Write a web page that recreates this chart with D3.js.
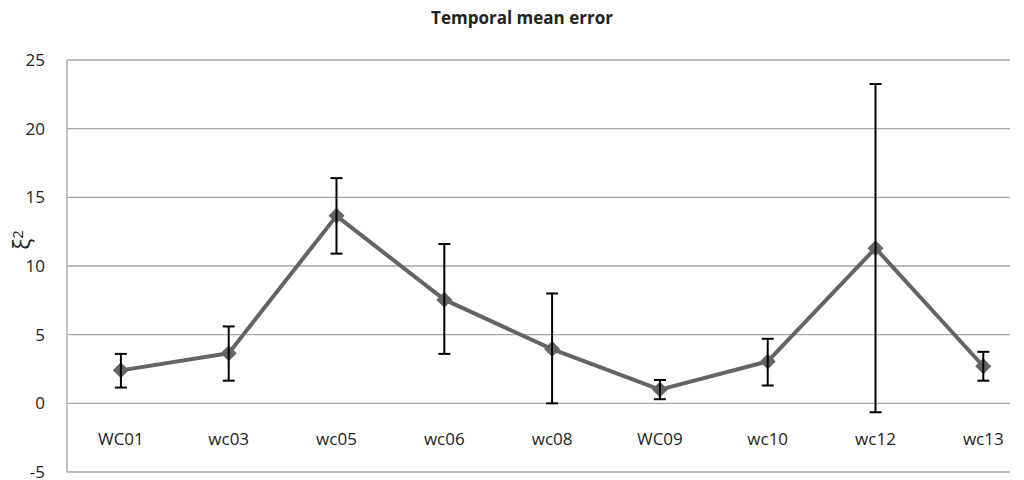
<!DOCTYPE html>
<html>
<head>
<meta charset="utf-8">
<script src="https://cdnjs.cloudflare.com/ajax/libs/d3/7.8.5/d3.min.js"></script>
<style>
  body { margin: 0; background: #fff; }
  text { font-family: "Open Sans", "Liberation Sans", sans-serif; fill: #222; }
</style>
</head>
<body>
<svg id="chart" width="1024" height="480"></svg>
<script>
// station names along the x axis
var stations = ["WC01", "wc03", "wc05", "wc06", "wc08", "WC09", "wc10", "wc12", "wc13"];
// mean error per station
var meanErr = [2.4, 3.65, 13.65, 7.55, 3.95, 1.0, 3.05, 11.3, 2.7];
// error bar ends
var errLow  = [1.15, 1.65, 10.9, 3.6, 0.0, 0.3, 1.3, -0.65, 1.65];
var errHigh = [3.6, 5.6, 16.4, 11.6, 8.0, 1.7, 4.7, 23.25, 3.75];
var yTicks = [-5, 0, 5, 10, 15, 20, 25];

var svg = d3.select("#chart");
// note: "top" is taken by window.top, so use plot* names
var plotLeft = 67, plotRight = 1010, plotTop = 60, plotBottom = 472;

var x = d3.scaleBand().domain(stations).range([plotLeft, plotLeft + 9 * 107.8]);
var y = d3.scaleLinear().domain([-5, 25]).range([plotBottom, plotTop]);
var cx = function(i){ return x(stations[i]) + x.bandwidth() / 2; };

// gridlines
svg.append("g").selectAll("line").data(yTicks).enter().append("line")
  .attr("x1", plotLeft).attr("x2", plotRight)
  .attr("y1", function(d){ return y(d); }).attr("y2", function(d){ return y(d); })
  .attr("stroke", "#a6a6a6").attr("stroke-width", 1.3);

// left axis line
svg.append("line").attr("x1", plotLeft).attr("x2", plotLeft)
  .attr("y1", plotTop).attr("y2", plotBottom)
  .attr("stroke", "#a6a6a6").attr("stroke-width", 1.3);

// y tick labels
svg.append("g").selectAll("text").data(yTicks).enter().append("text")
  .attr("x", 45).attr("y", function(d){ return y(d); })
  .attr("dy", "0.35em").attr("text-anchor", "end")
  .style("font-size", "17px")
  .text(function(d){ return d; });

// x labels (sit in the band between 0 and -5)
svg.append("g").selectAll("text").data(stations).enter().append("text")
  .attr("x", function(d, i){ return cx(i); }).attr("y", y(-2.6))
  .attr("dy", "0.35em").attr("text-anchor", "middle")
  .style("font-size", "17px")
  .text(function(d){ return d; });

// line
var line = d3.line().x(function(d, i){ return cx(i); }).y(function(d){ return y(d); });
svg.append("path").datum(meanErr).attr("d", line)
  .attr("fill", "none").attr("stroke", "#646464").attr("stroke-width", 4)
  .attr("stroke-linejoin", "round");

// diamonds
svg.append("g").selectAll("path").data(meanErr).enter().append("path")
  .attr("transform", function(d, i){ return "translate(" + cx(i) + "," + y(d) + ")"; })
  .attr("d", "M0,-8L8,0L0,8L-8,0Z")
  .attr("fill", "#646464");

// error bars
var eb = svg.append("g").attr("stroke", "#000").attr("stroke-width", 2);
stations.forEach(function(s, i){
  var px = cx(i);
  eb.append("line").attr("x1", px).attr("x2", px).attr("y1", y(errLow[i])).attr("y2", y(errHigh[i]));
  eb.append("line").attr("x1", px - 6).attr("x2", px + 6).attr("y1", y(errLow[i])).attr("y2", y(errLow[i]));
  eb.append("line").attr("x1", px - 6).attr("x2", px + 6).attr("y1", y(errHigh[i])).attr("y2", y(errHigh[i]));
});

// title
svg.append("text").attr("x", 522).attr("y", 24).attr("text-anchor", "middle")
  .style("font-size", "17px").style("font-weight", "bold")
  .text("Temporal mean error");

// y axis label
var yl = svg.append("text").attr("transform", "translate(30,240) rotate(-90)")
  .attr("text-anchor", "middle").style("font-size", "23px");
yl.append("tspan").text("ξ");
yl.append("tspan").attr("dy", "-0.45em").style("font-size", "15px").text("2");
</script>
</body>
</html>
